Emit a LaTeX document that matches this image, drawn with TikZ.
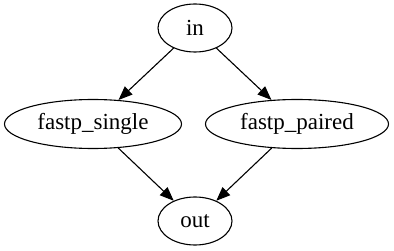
\documentclass[tikz,border=0pt]{standalone}
\usepackage{fontspec}
\setmainfont{Liberation Serif}
\usetikzlibrary{shapes.geometric,arrows.meta}
\begin{document}
\begin{tikzpicture}[x=1pt,y=-1pt,
  vertex/.style={draw,ellipse,line width=1.1pt,inner sep=0pt,
    font=\fontsize{23}{27}\selectfont},
  edge/.style={line width=1.1pt,-{Triangle[length=14pt,width=11pt]}}]
  \useasboundingbox (0,0) rectangle (394,251);
  \node[vertex,minimum width=74pt,minimum height=48pt] (in) at (195,28) {in};
  \node[vertex,minimum width=177pt,minimum height=49pt] (single) at (93,124) {fastp\_single};
  \node[vertex,minimum width=183pt,minimum height=49pt] (paired) at (297,124) {fastp\_paired};
  \node[vertex,minimum width=74pt,minimum height=48pt] (out) at (195,221) {out};
  \draw[edge] (in) -- (single);
  \draw[edge] (in) -- (paired);
  \draw[edge] (single) -- (out);
  \draw[edge] (paired) -- (out);
\end{tikzpicture}
\end{document}
